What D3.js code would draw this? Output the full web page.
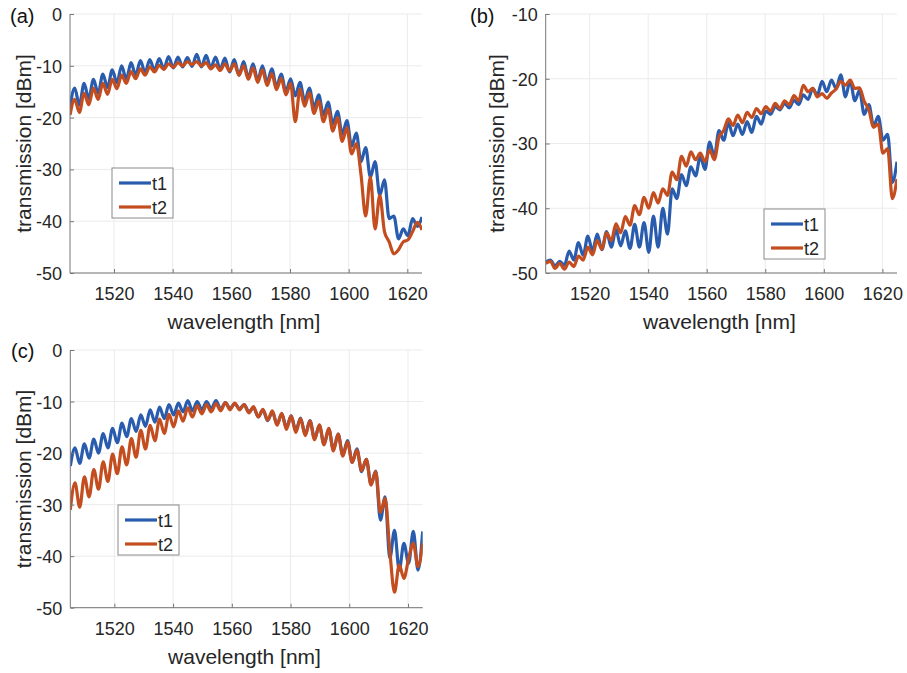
<!DOCTYPE html>
<html>
<head>
<meta charset="utf-8">
<script src="https://cdn.jsdelivr.net/npm/d3@7"></script>
<style>
  html, body { margin: 0; padding: 0; background: #ffffff; }
  svg { display: block; }
  text { font-family: "Liberation Sans", Arial, Helvetica, sans-serif; }
</style>
</head>
<body>
<svg id="chart" width="907" height="673"></svg>
<script>
// ---------------- data ----------------
const wavelength = [1505.0,1506.6,1508.2,1509.8,1511.4,1513.0,1514.6,1516.2,1517.8,1519.4,
  1521.0,1522.6,1524.2,1525.8,1527.4,1529.0,1530.6,1532.2,1533.8,1535.4,
  1537.0,1538.6,1540.2,1541.8,1543.4,1545.0,1546.6,1548.2,1549.8,1551.4,
  1553.0,1554.6,1556.2,1557.8,1559.4,1561.0,1562.6,1564.2,1565.8,1567.4,
  1569.0,1570.6,1572.2,1573.8,1575.4,1577.0,1578.6,1580.2,1581.8,1583.4,
  1585.0,1586.6,1588.2,1589.8,1591.4,1593.0,1594.6,1596.2,1597.8,1599.4,
  1601.0,1602.6,1604.2,1605.8,1607.4,1609.0,1610.6,1612.2,1613.8,1615.4,
  1617.0,1618.6,1620.2,1621.8,1623.4,1625.0];

const seriesNames = ["t1", "t2"];
const panelLabels = ["(a)", "(b)", "(c)"];
const xTicks = [1520, 1540, 1560, 1580, 1600, 1620];
const yTicksAC = [0, -10, -20, -30, -40, -50];
const yTicksB = [-10, -20, -30, -40, -50];
const xLabel = "wavelength [nm]";
const yLabel = "transmission [dBm]";

// panel (a)
const a_t1 = [-18.0,-14.3,-17.6,-13.4,-16.4,-12.6,-15.3,-11.6,-14.2,-10.8,
  -13.3,-10.0,-12.6,-9.4,-11.8,-9.0,-11.3,-8.8,-10.9,-8.6,
  -10.6,-8.2,-10.4,-8.3,-10.2,-8.4,-10.1,-7.8,-10.2,-8.0,
  -10.4,-8.3,-10.7,-8.5,-11.2,-8.8,-11.8,-9.2,-12.3,-9.6,
  -12.8,-10.0,-13.2,-10.6,-14.0,-11.6,-15.0,-12.5,-15.8,-13.2,
  -16.8,-14.3,-18.0,-15.6,-19.5,-17.0,-21.2,-18.8,-23.2,-20.6,
  -25.5,-23.0,-28.5,-25.8,-31.5,-28.5,-35.0,-32.0,-39.5,-39.0,
  -43.4,-41.5,-42.8,-39.5,-41.0,-39.2];
const a_t2 = [-19.5,-16.5,-19.0,-15.3,-17.5,-14.3,-16.5,-13.4,-15.5,-12.6,
  -14.4,-11.8,-13.4,-11.1,-12.5,-10.6,-11.8,-10.2,-11.2,-9.9,
  -10.7,-9.6,-10.3,-9.4,-10.0,-9.2,-9.8,-9.2,-10.0,-9.4,
  -10.6,-9.8,-10.9,-9.6,-11.0,-9.6,-11.8,-10.0,-12.6,-10.4,
  -13.2,-10.8,-13.8,-11.5,-14.6,-12.4,-15.6,-13.4,-20.8,-14.5,
  -17.8,-15.2,-19.2,-16.8,-20.8,-18.3,-22.6,-20.0,-24.6,-22.0,
  -27.0,-25.0,-31.0,-39.0,-31.5,-41.5,-35.0,-42.0,-44.0,-46.3,
  -45.5,-44.0,-43.6,-42.0,-40.2,-41.7];

// panel (b)
const b_t1 = [-48.3,-48.0,-48.9,-48.2,-48.8,-46.6,-48.0,-45.3,-47.3,-44.3,
  -46.6,-44.0,-46.4,-43.6,-46.0,-43.3,-45.8,-43.5,-46.2,-42.5,
  -46.0,-42.2,-46.8,-41.2,-46.0,-40.0,-44.0,-37.0,-38.5,-34.8,
  -36.5,-33.6,-35.0,-32.0,-34.0,-29.8,-32.0,-28.0,-29.5,-26.8,
  -28.8,-27.0,-28.6,-26.6,-28.3,-25.8,-27.0,-25.0,-25.5,-24.3,
  -24.8,-23.8,-24.5,-23.3,-24.0,-22.5,-23.2,-21.5,-22.5,-20.4,
  -22.0,-20.2,-21.5,-19.4,-22.8,-20.3,-23.4,-21.8,-25.5,-24.0,
  -27.3,-25.8,-29.5,-28.6,-36.0,-32.8];
const b_t2 = [-48.5,-48.2,-49.3,-48.5,-49.4,-48.3,-49.0,-47.4,-48.0,-46.0,
  -47.2,-45.0,-46.3,-43.8,-45.0,-42.4,-43.8,-41.3,-42.6,-39.6,
  -41.0,-38.3,-40.0,-37.6,-39.2,-37.0,-38.0,-34.4,-35.6,-32.0,
  -33.5,-31.3,-32.5,-31.5,-32.8,-31.0,-32.5,-29.0,-28.0,-26.2,
  -27.2,-25.6,-26.8,-25.2,-26.0,-24.6,-25.4,-24.3,-25.0,-23.8,
  -24.6,-23.4,-24.0,-22.6,-23.4,-21.0,-22.0,-21.5,-22.8,-22.3,
  -23.0,-22.2,-21.6,-20.4,-21.0,-20.2,-21.5,-21.4,-23.5,-24.8,
  -27.5,-27.0,-31.5,-30.8,-38.5,-35.5];

// panel (c)
const c_t1 = [-22.5,-19.0,-22.0,-18.2,-21.0,-17.3,-20.0,-16.2,-19.0,-15.2,
  -18.0,-14.2,-16.8,-13.3,-15.8,-12.6,-14.8,-11.6,-14.0,-11.1,
  -13.3,-10.6,-12.6,-10.3,-12.0,-9.8,-11.8,-10.0,-11.6,-10.0,
  -11.4,-9.8,-11.5,-10.2,-11.3,-10.4,-11.4,-10.6,-12.0,-11.2,
  -13.0,-11.6,-13.7,-12.0,-14.4,-12.4,-15.0,-12.8,-15.6,-13.2,
  -16.4,-13.7,-17.2,-14.6,-18.3,-15.3,-19.3,-16.3,-20.4,-17.6,
  -21.8,-19.2,-23.6,-21.2,-26.0,-23.5,-33.0,-28.5,-40.4,-35.0,
  -42.7,-37.5,-41.4,-35.2,-42.7,-35.2];
const c_t2 = [-31.0,-25.8,-30.5,-24.6,-28.5,-23.2,-27.0,-21.7,-25.5,-20.2,
  -24.0,-18.8,-22.3,-17.2,-20.8,-15.6,-19.2,-14.6,-17.6,-13.4,
  -16.2,-12.5,-14.9,-11.8,-13.8,-11.2,-13.0,-10.8,-12.4,-10.6,
  -12.0,-10.4,-11.8,-10.2,-11.6,-10.3,-11.6,-10.6,-12.2,-11.0,
  -13.0,-11.5,-13.6,-11.8,-14.6,-12.3,-15.4,-12.8,-16.0,-13.3,
  -16.6,-13.8,-17.4,-14.5,-18.4,-15.2,-19.6,-16.3,-20.6,-17.8,
  -21.8,-19.4,-23.4,-21.2,-26.2,-23.6,-31.5,-28.8,-39.0,-47.0,
  -41.7,-44.3,-40.5,-37.5,-42.0,-37.5];

// ---------------- drawing ----------------
const colors = ["#2a5cae", "#c44d1f"];
const svg = d3.select("#chart");

const panels = [
  { label: panelLabels[0], s1: a_t1, s2: a_t2, yTicks: yTicksAC, yDom: [-50, 0],
    left: 70, top: 14, right: 422, bottom: 273, labelX: 10, labelY: 22.5,
    yTitleX: 24, legend: { x: 112, y: 168 } },
  { label: panelLabels[1], s1: b_t1, s2: b_t2, yTicks: yTicksB, yDom: [-50, -10],
    left: 545.7, top: 14, right: 897, bottom: 273, labelX: 470, labelY: 22.5,
    yTitleX: 497, legend: { x: 764, y: 209 } },
  { label: panelLabels[2], s1: c_t1, s2: c_t2, yTicks: yTicksAC, yDom: [-50, 0],
    left: 70.3, top: 350, right: 422.7, bottom: 607.7, labelX: 11, labelY: 358,
    yTitleX: 24, legend: { x: 118, y: 505 } }
];

panels.forEach((p, pi) => {
  const x = d3.scaleLinear().domain([1505, 1625]).range([p.left, p.right]);
  const y = d3.scaleLinear().domain(p.yDom).range([p.bottom, p.top]);
  const g = svg.append("g");

  // grid
  g.append("g").selectAll("line").data(xTicks).join("line")
    .attr("x1", d => x(d)).attr("x2", d => x(d))
    .attr("y1", p.top).attr("y2", p.bottom)
    .attr("stroke", "#ebebeb").attr("stroke-width", 1);
  g.append("g").selectAll("line").data(p.yTicks).join("line")
    .attr("x1", p.left).attr("x2", p.right)
    .attr("y1", d => y(d)).attr("y2", d => y(d))
    .attr("stroke", "#ebebeb").attr("stroke-width", 1);

  // clip
  const clipId = "clip" + pi;
  svg.append("clipPath").attr("id", clipId).append("rect")
    .attr("x", p.left).attr("y", p.top - 2)
    .attr("width", p.right - p.left).attr("height", p.bottom - p.top + 2);

  const line = d3.line()
    .x((d, i) => x(wavelength[i]))
    .y(d => y(d))
    .curve(d3.curveMonotoneX);

  const lg = g.append("g").attr("clip-path", `url(#${clipId})`);
  [p.s1, p.s2].forEach((s, si) => {
    lg.append("path").datum(s)
      .attr("d", line)
      .attr("fill", "none")
      .attr("stroke", colors[si])
      .attr("stroke-width", 3.2)
      .attr("stroke-linejoin", "round");
  });

  // axes
  const xAxis = d3.axisBottom(x).tickValues(xTicks).tickSize(-4).tickFormat(d3.format("d"));
  const gx = g.append("g").attr("transform", `translate(0,${p.bottom})`).call(xAxis);
  gx.select(".domain").attr("stroke", "#777").attr("d", `M${p.left},0H${p.right}`);
  gx.selectAll(".tick line").attr("stroke", "#777");
  gx.selectAll(".tick text").attr("y", 27).attr("dy", null)
    .attr("font-size", 18).attr("fill", "#262626")
    .style("font-family", "'Liberation Sans', Arial, sans-serif");

  const yAxis = d3.axisLeft(y).tickValues(p.yTicks).tickSize(-4).tickFormat(d3.format("d"));
  const gy = g.append("g").attr("transform", `translate(${p.left},0)`).call(yAxis);
  gy.select(".domain").attr("stroke", "#777").attr("d", `M0,${p.top}V${p.bottom}`);
  gy.selectAll(".tick line").attr("stroke", "#777");
  gy.selectAll(".tick text").attr("x", -8).attr("dy", "0.36em")
    .attr("font-size", 18).attr("fill", "#262626")
    .style("font-family", "'Liberation Sans', Arial, sans-serif")
    .text(d => d === 0 ? "0" : "-" + Math.abs(d));

  // axis titles
  g.append("text")
    .attr("x", (p.left + p.right) / 2 - 2)
    .attr("y", p.bottom + 56)
    .attr("text-anchor", "middle")
    .attr("font-size", 21)
    .attr("fill", "#262626")
    .text(xLabel);
  g.append("text")
    .attr("transform", `translate(${p.yTitleX},${(p.top + p.bottom) / 2 + 0}) rotate(-90)`)
    .attr("text-anchor", "middle")
    .attr("dy", "0.35em")
    .attr("font-size", 21)
    .attr("fill", "#262626")
    .text(yLabel);

  // panel label
  g.append("text")
    .attr("x", p.labelX).attr("y", p.labelY)
    .attr("font-size", 20).attr("fill", "#111")
    .text(p.label);

  // legend
  const L = p.legend;
  const lgd = g.append("g").attr("transform", `translate(${L.x},${L.y})`);
  lgd.append("rect").attr("x", 0).attr("y", 0).attr("width", 61).attr("height", 50)
    .attr("fill", "#fff").attr("stroke", "#8a8a8a").attr("stroke-width", 1);
  seriesNames.forEach((n, si) => {
    const yy = 15 + si * 24;
    lgd.append("line").attr("x1", 7).attr("x2", 39).attr("y1", yy).attr("y2", yy)
      .attr("stroke", colors[si]).attr("stroke-width", 3.2);
    lgd.append("text").attr("x", 40).attr("y", yy + 6.5)
      .attr("font-size", 18).attr("fill", "#262626").text(n);
  });
});
</script>
</body>
</html>
